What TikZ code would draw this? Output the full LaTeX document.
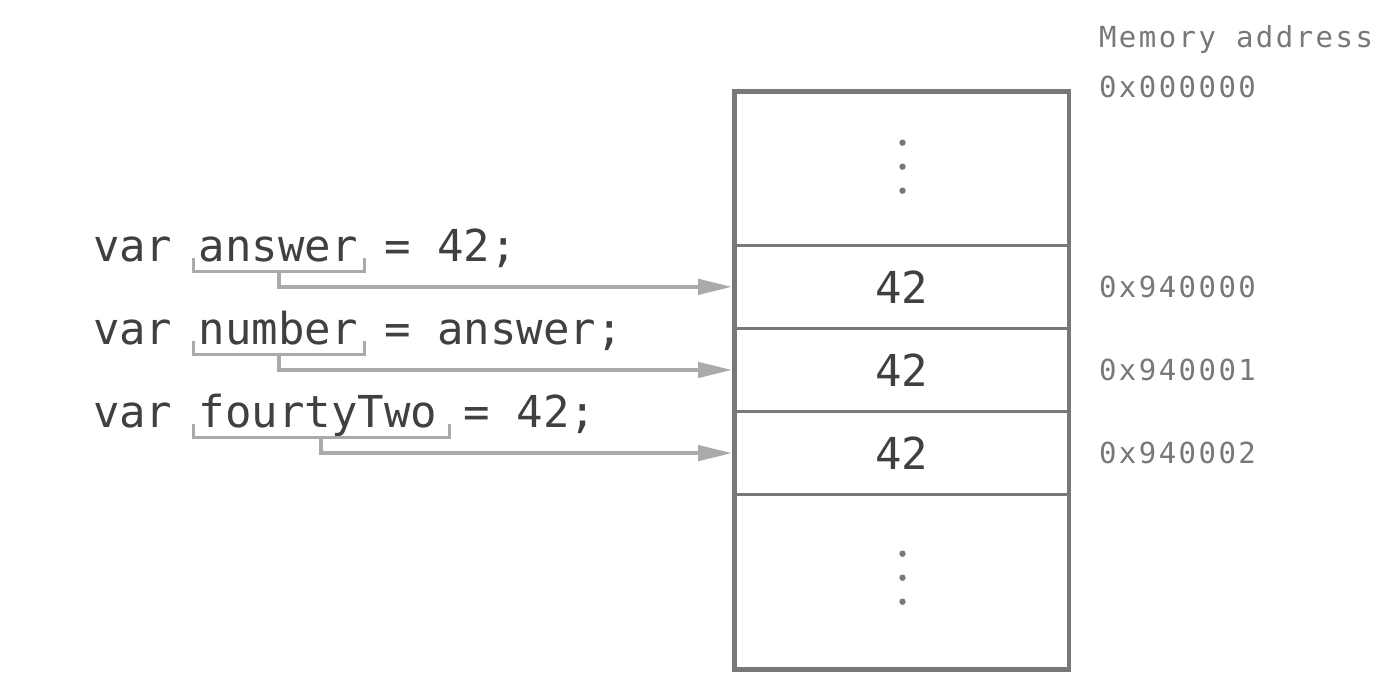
\documentclass[tikz,border=0pt]{standalone}
\usepackage{fontspec}
\newfontfamily\codefont{DejaVu Sans Mono}
\newfontfamily\addrfont[LetterSpace=8.5]{DejaVu Sans Mono}
\usetikzlibrary{arrows.meta}
\definecolor{codegray}{HTML}{404040}
\definecolor{boxgray}{HTML}{787878}
\definecolor{arrowgray}{HTML}{AAAAAA}
\begin{document}
\begin{tikzpicture}[x=0.5pt,y=-0.5pt,
  code/.style={anchor=base west, inner sep=0pt, outer sep=0pt, font=\codefont\fontsize{22}{26}\selectfont, text=codegray},
  addr/.style={anchor=west, inner sep=0pt, outer sep=0pt, font=\addrfont\fontsize{14.5}{17}\selectfont, text=boxgray},
  cell/.style={draw=boxgray, line width=1.35pt, minimum width=167.25pt, inner sep=0pt, outer sep=0pt, anchor=north, font=\codefont\fontsize{22}{26}\selectfont, text=codegray},
  bracket/.style={draw=arrowgray, line width=1.5pt},
  ptr/.style={draw=arrowgray, line width=2pt, shorten >=1.2pt, -{Triangle[length=17pt,width=7.6pt]}},
  dotmark/.style={fill=boxgray},
]
\useasboundingbox (0,0) rectangle (1400,700);

% memory cells
\node[cell, minimum height=76.9pt] (top) at (901.75,91.5) {};
\node[cell, minimum height=41.55pt] (c1) at (top.south) {42};
\node[cell, minimum height=41.55pt] (c2) at (c1.south) {42};
\node[cell, minimum height=41.6pt] (c3) at (c2.south) {42};
\node[cell, minimum height=87.4pt] (bot) at (c3.south) {};
\draw[boxgray, line width=2.35pt] (top.north west) rectangle (bot.south east);

% vertical ellipses
\foreach \yy in {142.7,166.7,190.7,553.7,577.7,601.7}
  \fill[dotmark] (902.5,\yy) circle[radius=1.6pt];

% addresses
\coordinate (ax) at (1099,0);
\node[addr, anchor=base west] (mh) at (1099,48) {Memory address};
\node[addr, anchor=base west] (a0) at (1099,98) {0x000000};
\node[addr] (a1) at (ax |- c1.center) {0x940000};
\node[addr] (a2) at (ax |- c2.center) {0x940001};
\node[addr] (a3) at (ax |- c3.center) {0x940002};

% code lines
\node[code] (l1) at (93,261) {var answer = 42;};
\node[code] (l2) at (93,344) {var number = answer;};
\node[code] (l3) at (93,427) {var fourtyTwo = 42;};

% brackets
\draw[bracket] (193,258) -- (193,271.5) -- (364,271.5) -- (364,258);
\draw[bracket] (193,341) -- (193,354.5) -- (364,354.5) -- (364,341);
\draw[bracket] (193,424) -- (193,437.5) -- (449,437.5) -- (449,424);
\coordinate (s1) at (279,271.5);
\coordinate (s2) at (279,354.5);
\coordinate (s3) at (321,437.5);

% pointers
\draw[ptr] (s1) |- (c1);
\draw[ptr] (s2) |- (c2);
\draw[ptr] (s3) |- (c3);
\end{tikzpicture}
\end{document}
